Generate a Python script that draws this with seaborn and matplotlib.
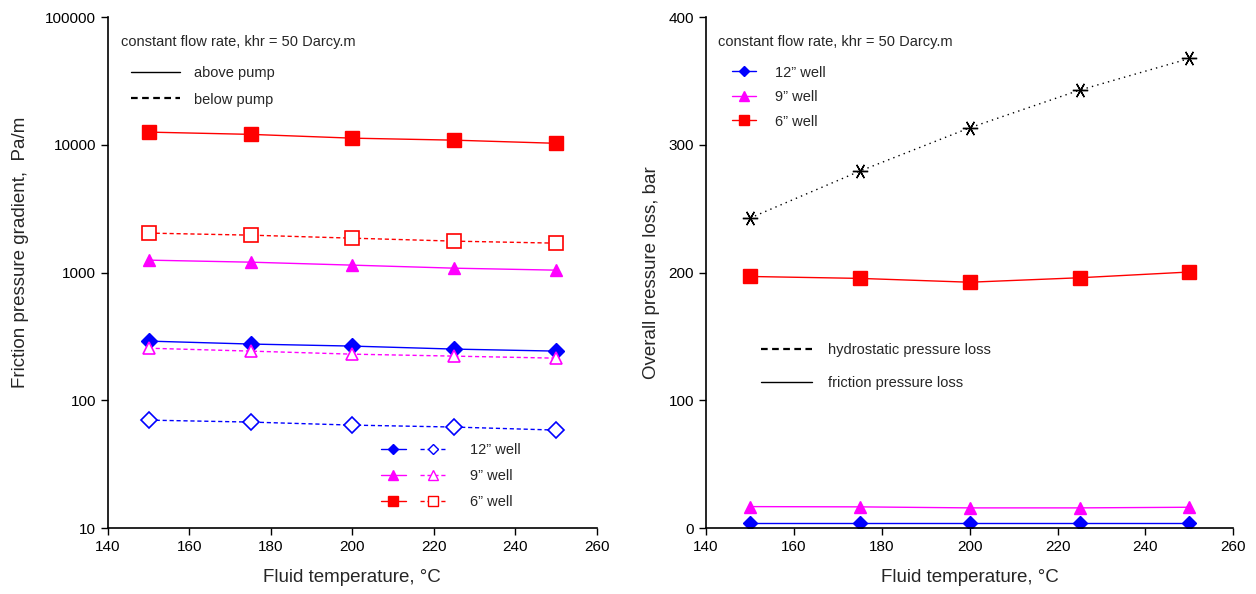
import matplotlib
matplotlib.use("Agg")
import matplotlib.pyplot as plt
from matplotlib.lines import Line2D
from matplotlib.legend_handler import HandlerTuple
from matplotlib.ticker import FixedLocator, NullLocator
import pandas as pd
import seaborn as sns

# Fluid temperature, °C
temperature = [150, 175, 200, 225, 250]

# Friction pressure gradient, Pa/m (above / below pump)
grad_12_above = [291, 276, 266, 252, 243]
grad_12_below = [70, 67.6, 64, 61.8, 58.5]
grad_9_above = [1253, 1208, 1145, 1084, 1046]
grad_9_below = [256, 243, 230, 222, 214]
grad_6_above = [12600, 12100, 11300, 10900, 10300]
grad_6_below = [2040, 1966, 1862, 1765, 1702]

# Overall pressure loss, bar
loss_hydrostatic = [242.7, 279.5, 313.4, 342.9, 367.7]
loss_12 = [3.8, 3.8, 3.8, 3.8, 3.8]
loss_9 = [16.8, 16.6, 15.8, 15.8, 16.3]
loss_6 = [197, 195.5, 192.5, 196, 200.5]

well_labels = ["12\u201d well", "9\u201d well", "6\u201d well"]
note = "constant flow rate, khr = 50 Darcy.m"

sns.set_theme(style="ticks")
plt.rcParams["font.family"] = ["Liberation Sans", "DejaVu Sans"]
plt.rcParams["axes.linewidth"] = 1.2
plt.rcParams["xtick.major.width"] = 1.0
plt.rcParams["ytick.major.width"] = 1.0

BLUE, MAGENTA, RED = "#0000ff", "#ff00ff", "#ff0000"
DASH = (0, (3, 2))
ASTERISK = (6, 2, 30)
LABEL_SIZE = 13.5
TEXT_SIZE = 10.5

fig = plt.figure(figsize=(12.56, 5.94), dpi=100)
axL = fig.add_axes([0.086, 0.111, 0.389, 0.860])
axR = fig.add_axes([0.562, 0.111, 0.420, 0.860])

def draw(ax, y, color, marker, ms, ls="-", filled=True, lw=1.0):
    df = pd.DataFrame({"t": temperature, "v": y})
    sns.lineplot(data=df, x="t", y="v", ax=ax, color=color, lw=lw,
                 linestyle=ls, marker=marker, markersize=ms,
                 markerfacecolor=color if filled else "white",
                 markeredgecolor=color, markeredgewidth=1.0 if filled else 1.2)

# ---- left panel: friction pressure gradient (log scale)
draw(axL, grad_6_above, RED, "s", 10)
draw(axL, grad_6_below, RED, "s", 10, DASH, filled=False)
draw(axL, grad_9_above, MAGENTA, "^", 9)
draw(axL, grad_12_above, BLUE, "D", 8)
draw(axL, grad_9_below, MAGENTA, "^", 9, DASH, filled=False)
draw(axL, grad_12_below, BLUE, "D", 8, DASH, filled=False)

axL.set_yscale("log")
axL.set_ylim(10, 100000)
axL.yaxis.set_major_locator(FixedLocator([10, 100, 1000, 10000, 100000]))
axL.yaxis.set_minor_locator(NullLocator())
axL.set_yticklabels(["10", "100", "1000", "10000", "100000"])
axL.set_ylabel("Friction pressure gradient,  Pa/m", fontsize=LABEL_SIZE)

# ---- right panel: overall pressure loss
draw(axR, loss_hydrostatic, "black", ASTERISK, 11, (0, (1, 3)), lw=1.0)
draw(axR, loss_6, RED, "s", 10)
draw(axR, loss_9, MAGENTA, "^", 9)
draw(axR, loss_12, BLUE, "D", 7)
axR.set_ylim(0, 400)
axR.set_yticks([0, 100, 200, 300, 400])
axR.set_ylabel("Overall pressure loss, bar", fontsize=LABEL_SIZE, labelpad=6)

for ax in (axL, axR):
    ax.set_xlim(140, 260)
    ax.set_xticks(range(140, 261, 20))
    ax.set_xlabel("Fluid temperature, \u00b0C", fontsize=LABEL_SIZE, labelpad=11)
    ax.tick_params(axis="both", labelsize=11, length=5, direction="out",
                   colors="black")
    sns.despine(ax=ax)
    for s in ("left", "bottom"):
        ax.spines[s].set_color("black")
    ax.text(0.026 if ax is axL else 0.023, 0.951, note, transform=ax.transAxes,
            fontsize=TEXT_SIZE, va="center", ha="left")

axL.yaxis.set_label_coords(-0.161, 0.54)

# ---- left legends
line_kw = dict(lw=1.0)
pump = axL.legend(
    handles=[Line2D([], [], color="black", **line_kw),
             Line2D([], [], color="black", ls=DASH, lw=1.6)],
    labels=["above pump", "below pump"],
    loc="upper left", bbox_to_anchor=(0.02, 0.93), frameon=False,
    fontsize=TEXT_SIZE, handlelength=3.4, labelspacing=0.85, handletextpad=0.9)
axL.add_artist(pump)

def pair(color, marker, ms):
    solid = Line2D([], [], color=color, marker=marker, markersize=ms, **line_kw)
    dashed = Line2D([], [], color=color, marker=marker, markersize=ms,
                    ls=DASH, markerfacecolor="white", **line_kw)
    return (solid, dashed)

axL.legend(handles=[pair(BLUE, "D", 5.5), pair(MAGENTA, "^", 6.5), pair(RED, "s", 6.5)],
           labels=well_labels, handler_map={tuple: HandlerTuple(ndivide=None, pad=1.0)},
           loc="lower left", bbox_to_anchor=(0.532, 0.012), frameon=False,
           fontsize=TEXT_SIZE, handlelength=4.4, labelspacing=0.82, handletextpad=1.7)

# ---- right legends
wells = axR.legend(
    handles=[Line2D([], [], color=BLUE, marker="D", markersize=5, **line_kw),
             Line2D([], [], color=MAGENTA, marker="^", markersize=7, **line_kw),
             Line2D([], [], color=RED, marker="s", markersize=7, **line_kw)],
    labels=well_labels, loc="upper left", bbox_to_anchor=(0.025, 0.931),
    frameon=False, fontsize=TEXT_SIZE, handlelength=1.65, labelspacing=0.72,
    handletextpad=1.3)
axR.add_artist(wells)
axR.legend(
    handles=[Line2D([], [], color="black", ls=DASH, lw=1.6),
             Line2D([], [], color="black", **line_kw)],
    labels=["hydrostatic pressure loss", "friction pressure loss"],
    loc="upper left", bbox_to_anchor=(0.08, 0.388), frameon=False,
    fontsize=TEXT_SIZE, handlelength=3.5, labelspacing=1.3, handletextpad=1.1)

fig.savefig("out.png", dpi=100)
